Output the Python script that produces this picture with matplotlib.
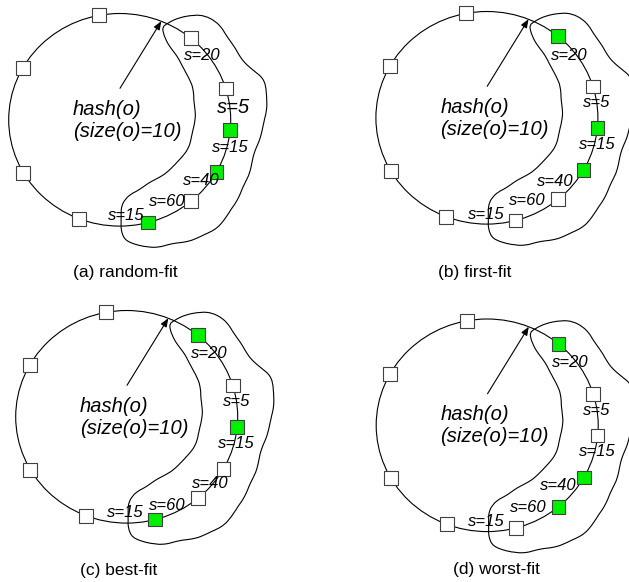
import numpy as np
import matplotlib
matplotlib.use("Agg")
import matplotlib.pyplot as plt
from matplotlib.patches import Ellipse, PathPatch
from matplotlib.path import Path

plt.rcParams["font.family"] = ["Liberation Sans", "DejaVu Sans"]

# --- data ---------------------------------------------------------------
# empty servers on the left part of the ring (angle in degrees)
idle_angles = [100.7, 151.1, 209.8, 248.5]
# candidate servers clockwise from hash(o), with their free sizes
cand_angles = [50.1, 17.2, -5.6, -29.4, -50.0, -75.1]
cand_sizes = [20, 5, 15, 40, 60, 15]
# which candidates are marked (green) in each policy
chosen = {
    "a": [0, 0, 1, 1, 0, 1],
    "b": [1, 0, 1, 1, 0, 0],
    "c": [1, 0, 1, 0, 0, 1],
    "d": [1, 0, 0, 1, 1, 0],
}
captions = {
    "a": "(a) random-fit",
    "b": "(b) first-fit",
    "c": "(c) best-fit",
    "d": "(d) worst-fit",
}
hash_angle = 68.0

# --- layout (pixels) ----------------------------------------------------
W, H = 629, 582
cx, cy, rx, ry = 119.7, 119.8, 111.0, 106.3
offsets = {"a": (0, 0), "b": (367.2, -2), "c": (7, 297), "d": (367.5, 305.5)}
caption_pos = {"a": (72.7, 276.7), "b": (438.3, 276.5),
               "c": (80.0, 574.5), "d": (453.3, 574.0)}
# label anchors (left, baseline) relative to each panel
label_pos = {
    "a": [(184, 60.5), (217, 113.3), (212, 152), (183, 185), (149, 205.7), (108, 220)],
    "b": [(183.5, 62), (215.5, 109.3), (211.5, 151.3), (169.5, 187.7), (142, 207), (100.5, 221.3)],
    "c": [(183.7, 61.3), (215.7, 109), (211.3, 151.3), (184.7, 191.3), (142.3, 213), (99.7, 219.7)],
    "d": [(184.2, 61.8), (215.8, 109.5), (211.8, 150.5), (172.5, 184.5), (142.5, 207), (100.8, 220.5)],
}
# hand drawn outline around the candidate arc
blob = np.array([
    (163.3, 26.7), (173, 20), (186.7, 16.7), (200, 15), (210, 18.3), (220, 26.7),
    (230, 40), (240, 56.7), (253, 70), (263, 80), (266.7, 92), (266, 110),
    (263.3, 126.7), (256.7, 146.7), (251.7, 163.3), (246.7, 180), (236.7, 200),
    (226.7, 216.7), (213.3, 230), (196.7, 238.3), (176.7, 243.3), (156.7, 246.7),
    (140, 246), (126.7, 240), (121.7, 230), (120.7, 216.7), (122.7, 205),
    (130, 195), (143.3, 186.7), (160, 176.7), (176.7, 163.3), (188.3, 146.7),
    (193.3, 130), (195, 110), (192.7, 90), (186.7, 73.3), (176.7, 56.7),
    (168.3, 43.3), (163.3, 33.3),
])


def ring_xy(angles, ox, oy):
    t = np.radians(np.asarray(angles, dtype=float))
    return ox + cx + rx * np.cos(t), oy + cy - ry * np.sin(t)


def closed_smooth_path(pts):
    n = len(pts)
    verts = [pts[0]]
    codes = [Path.MOVETO]
    for i in range(n):
        p0, p1, p2, p3 = pts[i - 1], pts[i], pts[(i + 1) % n], pts[(i + 2) % n]
        verts += [p1 + (p2 - p0) / 6, p2 - (p3 - p1) / 6, p2]
        codes += [Path.CURVE4] * 3
    return Path(verts, codes)


fig = plt.figure(figsize=(W / 100, H / 100), dpi=100)
ax = fig.add_axes([0, 0, 1, 1])
ax.set_xlim(0, W)
ax.set_ylim(H, 0)
ax.axis("off")

for key, (ox, oy) in offsets.items():
    ax.add_patch(Ellipse((ox + cx, oy + cy), 2 * rx, 2 * ry, fill=False,
                         lw=0.8, color="black", zorder=1))

    outline = PathPatch(closed_smooth_path(blob + np.array([ox, oy])),
                        fill=False, lw=0.8, ec="black", zorder=1)
    outline.set_sketch_params(scale=0.45, length=30, randomness=1)
    ax.add_patch(outline)

    hx, hy = ring_xy([hash_angle], ox, oy)
    ax.annotate("", xy=(hx[0], hy[0]), xytext=(ox + 120, oy + 88.3),
                arrowprops=dict(arrowstyle="-|>,head_length=0.5,head_width=0.2",
                                lw=0.8, color="black", shrinkA=0, shrinkB=0),
                zorder=2)

    ix, iy = ring_xy(idle_angles, ox, oy)
    ax.scatter(ix, iy, marker="s", s=96, facecolor="white",
               edgecolor="#404040", linewidth=0.8, zorder=3)

    kx, ky = ring_xy(cand_angles, ox, oy)
    colors = ["#00f000" if c else "white" for c in chosen[key]]
    ax.scatter(kx, ky, marker="s", s=96, facecolor=colors,
               edgecolor="#404040", linewidth=0.8, zorder=3)

    for i, size in enumerate(cand_sizes):
        lx, ly = label_pos[key][i]
        fs = 14.5 if (key == "a" and i == 1) else 12
        ax.text(ox + lx, oy + ly, f"s={size}", fontsize=fs, style="italic",
                ha="left", va="baseline", zorder=4)

    ax.text(ox + 73, oy + 115, "hash(o)", fontsize=14.5, style="italic",
            ha="left", va="baseline", zorder=4)
    ax.text(ox + 73, oy + 136.7, "(size(o)=10)", fontsize=14.5, style="italic",
            ha="left", va="baseline", zorder=4)

    px, py = caption_pos[key]
    ax.text(px, py, captions[key], fontsize=12.5, ha="left", va="baseline")

fig.savefig("out.png", dpi=100)
